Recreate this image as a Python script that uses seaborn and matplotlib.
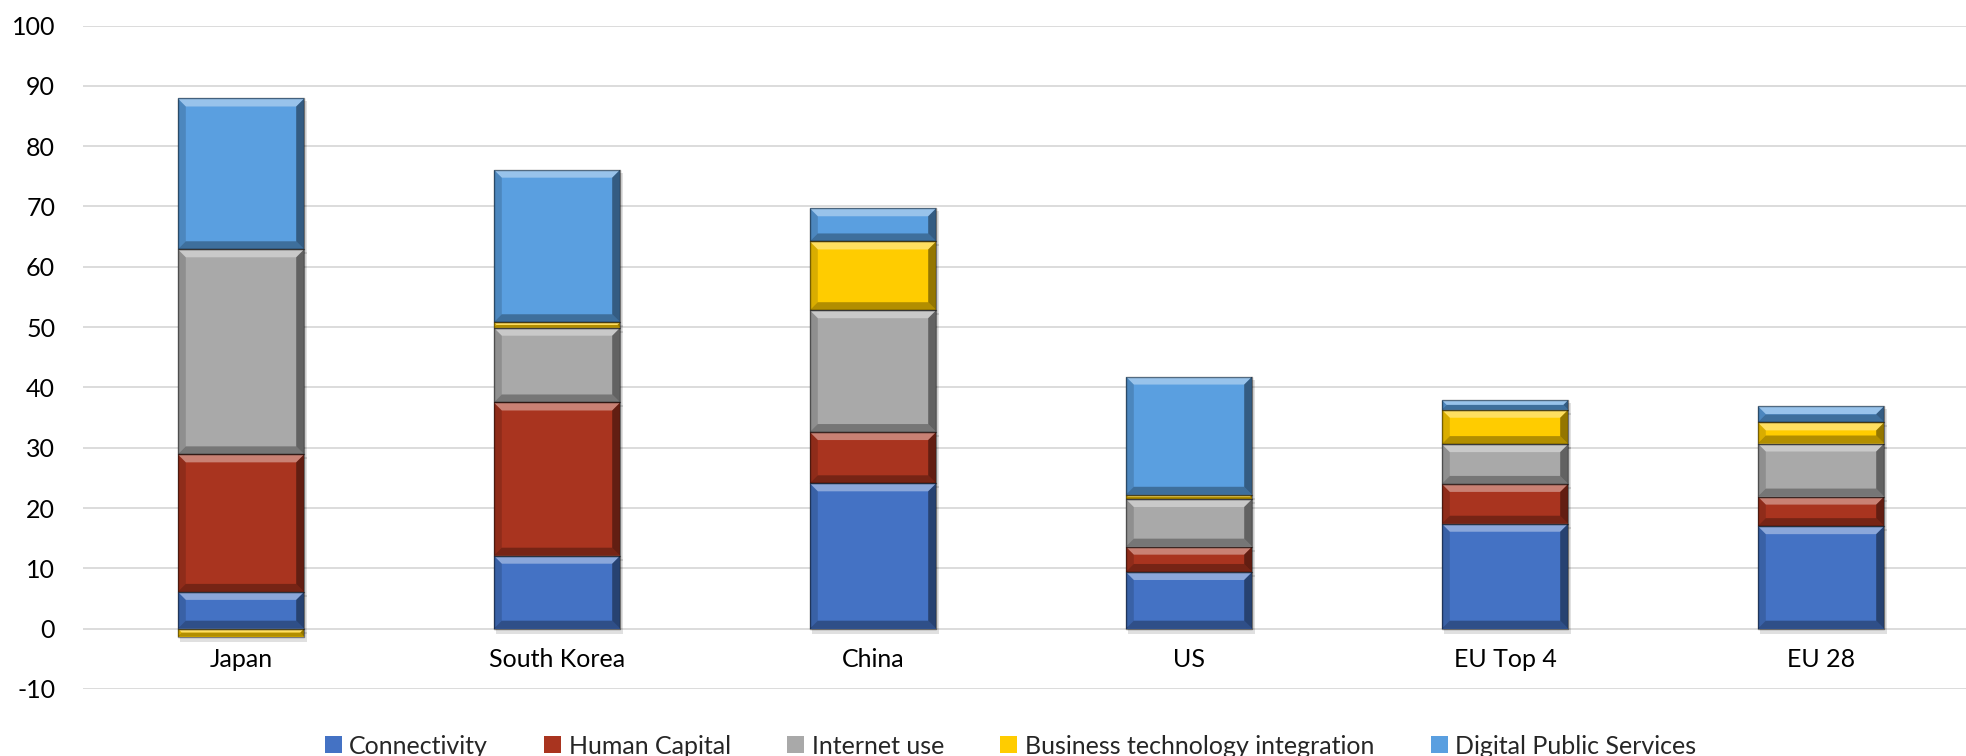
import numpy as np
import pandas as pd
import matplotlib
matplotlib.use("Agg")
import matplotlib.pyplot as plt
import seaborn as sns
from matplotlib.patches import Polygon, Rectangle

# ---------------- data ----------------
categories = ["Japan", "South Korea", "China", "US", "EU Top 4", "EU 28"]
connectivity = [6.1, 12.1, 24.1, 9.4, 17.4, 17.0]
human_capital = [22.8, 25.4, 8.5, 4.2, 6.6, 4.9]
internet_use = [34.0, 12.4, 20.2, 7.9, 6.6, 8.8]
business_tech = [-1.3, 0.9, 11.4, 0.7, 5.7, 3.5]
digital_public = [25.0, 25.3, 5.5, 19.6, 1.6, 2.7]
series_names = ["Connectivity", "Human Capital", "Internet use",
                "Business technology integration", "Digital Public Services"]
y_ticks = list(range(-10, 101, 10))

series_values = [connectivity, human_capital, internet_use, business_tech, digital_public]
colors = ["#4472C4", "#A9341F", "#A9A9A9", "#FFCC00", "#5A9FE0"]

# ---------------- style ----------------
sns.set_theme(style="white")
plt.rcParams["font.family"] = ["Lato", "DejaVu Sans"]

fig = plt.figure(figsize=(19.66, 7.56), dpi=100)
ax = fig.add_axes([83 / 1966, 1 - 689 / 756, (1979 - 83) / 1966, (689 - 25.5) / 756])

pos_base = np.zeros(len(categories))
neg_base = np.zeros(len(categories))
for name, vals, col in zip(series_names, series_values, colors):
    v = np.array(vals, dtype=float)
    bottom = np.where(v >= 0, pos_base, neg_base)
    df = pd.DataFrame({"cat": categories, "val": v})
    sns.barplot(data=df, x="cat", y="val", order=categories, color=col,
                saturation=1, width=0.4, bottom=bottom, label=name, ax=ax,
                linewidth=0, zorder=3)
    pos_base = pos_base + np.where(v >= 0, v, 0)
    neg_base = neg_base + np.where(v < 0, v, 0)

if ax.get_legend() is not None:
    ax.get_legend().remove()

ax.set_ylim(-10, 100)
ax.set_xlim(-0.5, len(categories) - 0.5)
ax.set_yticks(y_ticks)
ax.set_yticklabels([str(t) for t in y_ticks])
ax.yaxis.grid(True, color="#D9D9D9", linewidth=1.3)
ax.set_axisbelow(True)
for s in ax.spines.values():
    s.set_visible(False)
ax.spines["bottom"].set_position(("data", 0))
ax.tick_params(axis="both", length=0, labelsize=18, colors="black")
ax.tick_params(axis="y", pad=20)
ax.tick_params(axis="x", pad=14)
ax.set_xlabel("")
ax.set_ylabel("")

# ---------------- bevel decoration ----------------
fig.canvas.draw()
inv = ax.transData.inverted()
bars = [p for p in ax.patches if isinstance(p, Rectangle)]
for p in bars:
    x0, y0 = p.get_x(), p.get_y()
    w, h = p.get_width(), p.get_height()
    (px0, py0) = ax.transData.transform((x0, y0))
    (px1, py1) = ax.transData.transform((x0 + w, y0 + h))
    l, r = min(px0, px1), max(px0, px1)
    b, t = min(py0, py1), max(py0, py1)
    d = min(8.0, (t - b) / 2.0, (r - l) / 2.0)

    def tod(pts):
        return inv.transform(np.array(pts))

    # shadow
    sh = tod([(l + 2, b - 5), (r + 3, b - 5), (r + 3, t - 3), (l + 2, t - 3)])
    ax.add_patch(Polygon(sh, closed=True, facecolor="#000000", alpha=0.12,
                         linewidth=0, zorder=2.5))
    # top light bevel
    ax.add_patch(Polygon(tod([(l, t), (r, t), (r - d, t - d), (l + d, t - d)]),
                         facecolor="white", alpha=0.38, linewidth=0, zorder=4))
    # bottom dark bevel
    ax.add_patch(Polygon(tod([(l, b), (r, b), (r - d, b + d), (l + d, b + d)]),
                         facecolor="black", alpha=0.3, linewidth=0, zorder=4))
    # left bevel
    ax.add_patch(Polygon(tod([(l, b), (l, t), (l + d, t - d), (l + d, b + d)]),
                         facecolor="black", alpha=0.15, linewidth=0, zorder=4))
    # right bevel
    ax.add_patch(Polygon(tod([(r, b), (r, t), (r - d, t - d), (r - d, b + d)]),
                         facecolor="black", alpha=0.42, linewidth=0, zorder=4))
    # outline
    ax.add_patch(Polygon(tod([(l, b), (r, b), (r, t), (l, t)]), fill=False,
                         edgecolor="black", alpha=0.45, linewidth=1.0, zorder=4.5))

# ---------------- legend ----------------
handles, labels = ax.get_legend_handles_labels()
fig.legend(handles, labels, loc="center", bbox_to_anchor=(0.514, 0.013), ncol=5,
           frameon=False, fontsize=18, handlelength=0.68, handleheight=0.68,
           handletextpad=0.3, columnspacing=2.25)

fig.savefig("out.png", dpi=100)
